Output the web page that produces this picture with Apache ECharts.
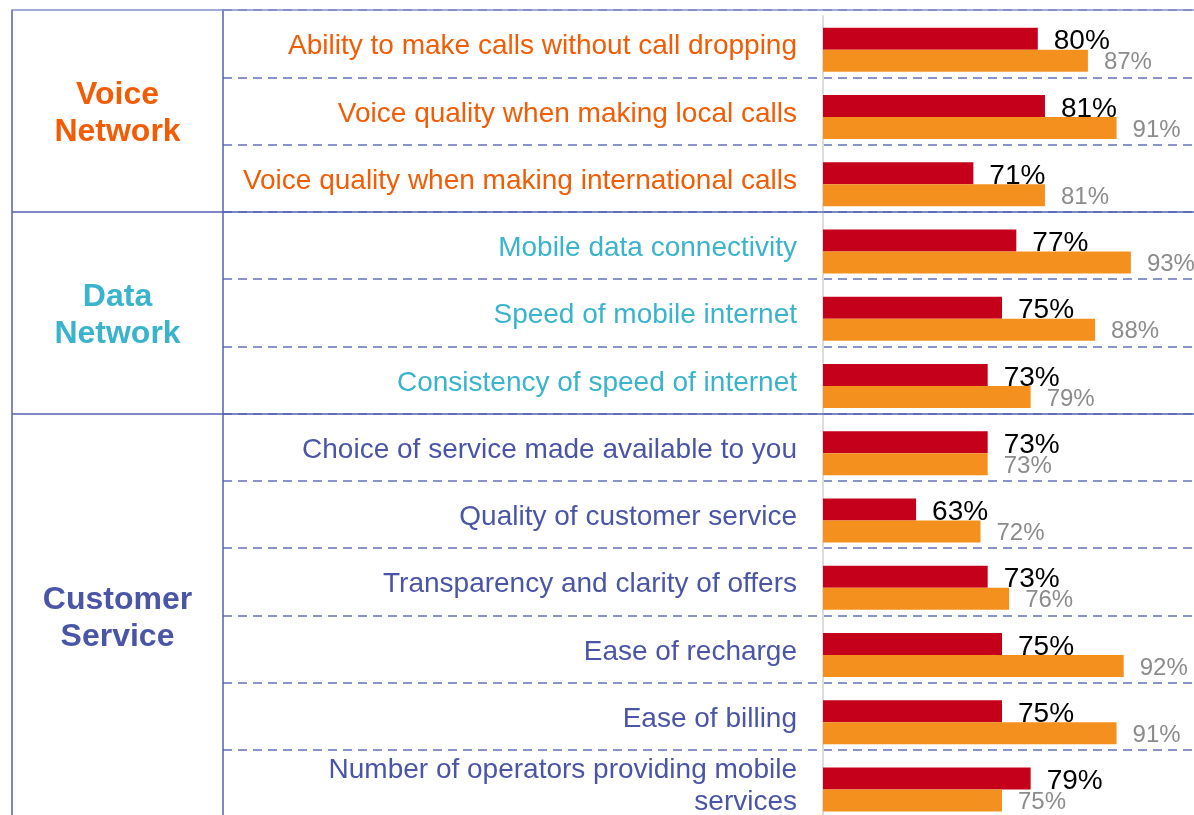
<!DOCTYPE html>
<html>
<head>
<meta charset="utf-8">
<script src="https://cdn.jsdelivr.net/npm/echarts@6/dist/echarts.min.js"></script>
<style>
    html, body { margin: 0; padding: 0; background: #fff; overflow: hidden; }
    #chart { width: 1194px; height: 830px; }
</style>
</head>
<body>
<div id="chart"></div>
<script>
    const categories = [
        "Ability to make calls without call dropping",
        "Voice quality when making local calls",
        "Voice quality when making international calls",
        "Mobile data connectivity",
        "Speed of mobile internet",
        "Consistency of speed of internet",
        "Choice of service made available to you",
        "Quality of customer service",
        "Transparency and clarity of offers",
        "Ease of recharge",
        "Ease of billing",
        "Number of operators providing mobile\nservices"
    ];
    const groupNames = ["Voice\nNetwork", "Data\nNetwork", "Customer\nService"];
    const groupSizes = [3, 3, 6];
    const groupColors = ["#f25c05", "#3ab3cc", "#4b55a8"];
    const redValues = [80, 81, 71, 77, 75, 73, 73, 63, 73, 75, 75, 79];
    const orangeValues = [87, 91, 81, 93, 88, 79, 73, 72, 76, 92, 91, 75];

    const font = "'Liberation Sans', Arial, sans-serif";
    const lineColor = "#5560b2";

    // which group each row is in, where groups start and their centres
    let rowGroup = [];
    let groupStarts = [];
    let groupCenters = [];
    let start = 0;
    groupSizes.forEach((n, g) => {
        groupStarts.push(start);
        groupCenters.push(start + n / 2);
        for (let i = 0; i < n; i++) rowGroup.push(g);
        start += n;
    });

    const hidden = { show: false };
    let chart = echarts.init(document.getElementById("chart"));
    chart.setOption({
        animation: false,
        textStyle: { fontFamily: font },
        grid: [
            { left: 12, right: 0, top: 10, height: 807 },   // frame
            { left: 12, width: 211, top: 13, height: 807 }, // group names
            { left: 223, right: 0, top: 10, height: 807 },  // row lines
            { left: 805, width: 1, top: 13, height: 807 },  // row labels
            { left: 823, right: 13, top: 16, height: 807 }  // bars
        ],
        xAxis: [
            { type: "value", gridIndex: 0, min: 0, max: 1, show: false },
            { type: "value", gridIndex: 1, min: 0, max: 1, show: false },
            { type: "value", gridIndex: 2, min: 0, max: 1, show: false },
            { type: "value", gridIndex: 3, min: 0, max: 1, show: false },
            { type: "value", gridIndex: 4, min: 50, max: 100, show: false }
        ],
        yAxis: [
            {
                type: "value", gridIndex: 0, min: 0, max: 12, inverse: true,
                axisLine: { show: true, onZero: false, lineStyle: { color: lineColor, width: 1.5 } },
                axisTick: hidden, axisLabel: hidden, splitLine: hidden
            },
            { type: "value", gridIndex: 1, min: 0, max: 12, inverse: true, show: false },
            {
                type: "category", gridIndex: 2, data: categories, inverse: true,
                axisLine: { show: true, onZero: false, lineStyle: { color: lineColor, width: 1.5 } },
                axisTick: hidden, axisLabel: hidden,
                splitLine: { show: true, interval: 0, lineStyle: { type: [9, 6], color: "#6670bb", width: 1.5 } }
            },
            {
                type: "category", gridIndex: 3, data: categories, inverse: true,
                axisLine: hidden, axisTick: hidden,
                axisLabel: {
                    margin: 8,
                    fontSize: 28,
                    fontFamily: font,
                    lineHeight: 32,
                    align: "right",
                    color: (value, index) => groupColors[rowGroup[index]]
                }
            },
            {
                type: "category", gridIndex: 4, data: categories, inverse: true,
                axisLine: { show: true, onZero: false, lineStyle: { color: "#dcdcdc", width: 2 } },
                axisTick: hidden, axisLabel: hidden
            }
        ],
        series: [
            {
                type: "line",
                xAxisIndex: 0,
                yAxisIndex: 0,
                data: [],
                markLine: {
                    silent: true,
                    symbol: "none",
                    label: hidden,
                    lineStyle: { type: "solid", color: lineColor, width: 1.5 },
                    data: groupStarts.map((v) => ({
                        yAxis: v,
                        lineStyle: v === 0 ? { color: "#8590cc" } : {}
                    }))
                }
            },
            {
                type: "scatter",
                xAxisIndex: 1,
                yAxisIndex: 1,
                symbolSize: 0,
                silent: true,
                itemStyle: { opacity: 1 },
                data: groupNames.map((n, g) => ({
                    name: n,
                    value: [0.5, groupCenters[g]],
                    label: { color: groupColors[g] }
                })),
                label: {
                    show: true,
                    position: "inside",
                    formatter: (p) => p.name,
                    fontSize: 32,
                    fontWeight: "bold",
                    lineHeight: 37,
                    fontFamily: font,
                    opacity: 1
                }
            },
            {
                name: "red",
                type: "bar",
                xAxisIndex: 4,
                yAxisIndex: 4,
                clip: true,
                barWidth: 22,
                barGap: "0%",
                data: redValues,
                itemStyle: { color: "#c5001a" },
                label: {
                    show: true, position: "right", distance: 16, offset: [0, 3],
                    formatter: "{c}%", color: "#000", fontSize: 28, fontFamily: font
                }
            },
            {
                name: "orange",
                type: "bar",
                xAxisIndex: 4,
                yAxisIndex: 4,
                clip: true,
                barWidth: 22,
                data: orangeValues,
                itemStyle: { color: "#f4911e" },
                label: {
                    show: true, position: "right", distance: 16, offset: [0, 2],
                    formatter: "{c}%", color: "#8c8c8c", fontSize: 24, fontFamily: font
                }
            }
        ]
    });
</script>
</body>
</html>
